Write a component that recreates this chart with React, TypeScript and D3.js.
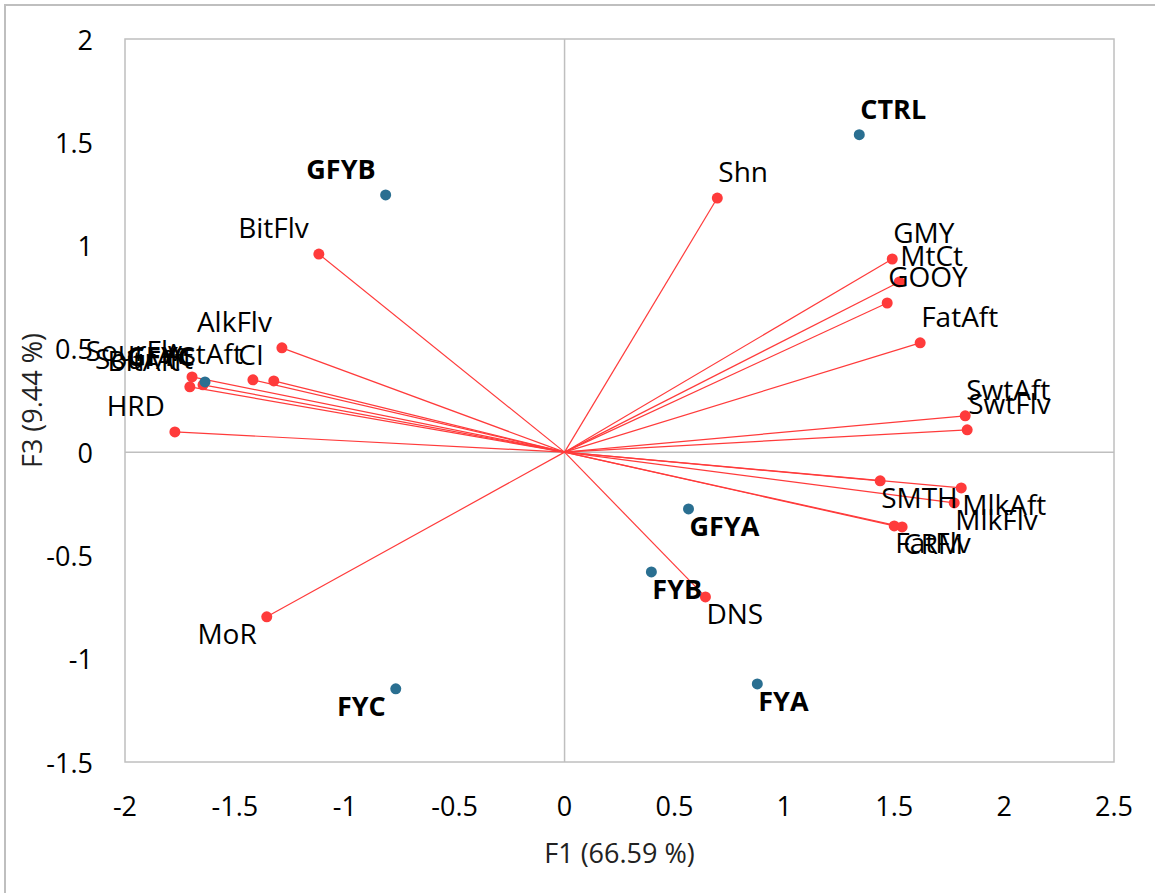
import React from "react";
import * as d3 from "d3";

// Observations (factor scores on F1 / F3)
const obsNames = ["CTRL", "GFYB", "GFYA", "FYB", "FYC", "FYA", "GFYC"];
const obsF1 = [1.341, -0.814, 0.564, 0.395, -0.768, 0.877, -1.636];
const obsF3 = [1.537, 1.245, -0.275, -0.58, -1.146, -1.122, 0.34];

// Variables (loadings on F1 / F3)
const varNames = [
  "Shn", "BitFlv", "GMY", "MtCt", "GOOY", "FatAft", "SwtAft", "SwtFlv",
  "SMTH", "MlkAft", "MlkFlv", "FatFlv", "CRM", "DNS", "MoR", "HRD",
  "AlkFlv", "SourFlv", "BitAft", "SourAft", "AstAft", "CI",
];
const varF1 = [
  0.695, -1.118, 1.491, 1.523, 1.468, 1.618, 1.823, 1.832,
  1.436, 1.805, 1.773, 1.5, 1.536, 0.641, -1.355, -1.773,
  -1.286, -1.695, -1.705, -1.645, -1.418, -1.323,
];
const varF3 = [
  1.23, 0.959, 0.935, 0.824, 0.722, 0.529, 0.176, 0.108,
  -0.139, -0.173, -0.246, -0.357, -0.362, -0.701, -0.797, 0.098,
  0.505, 0.364, 0.316, 0.326, 0.35, 0.345,
];

const xTicks = [-2, -1.5, -1, -0.5, 0, 0.5, 1, 1.5, 2, 2.5];
const yTicks = [-1.5, -1, -0.5, 0, 0.5, 1, 1.5, 2];

const xTitle = "F1 (66.59 %)";
const yTitle = "F3 (9.44 %)";

const W = 1155;
const H = 893;
const plot = { left: 125, right: 1114, top: 39, bottom: 762 };
const FONT = "'Open Sans', sans-serif";
const RED = "#ff3b3b";
const BLUE = "#2a6f91";
const GRID = "#bfbfbf";

export default function App() {
  const x = d3.scaleLinear().domain([-2, 2.5]).range([plot.left, plot.right]);
  const y = d3.scaleLinear().domain([-1.5, 2]).range([plot.bottom, plot.top]);

  // labels sit above points in the upper half, below them in the lower half,
  // and to the outside of the point horizontally
  const labelPos = (vx: number, vy: number) => {
    const px = x(vx);
    const py = y(vy);
    const right = vx >= 0;
    return {
      x: right ? px + 1 : px - 10,
      y: vy >= 0 ? py - 16 : py + 27,
      anchor: right ? "start" : "end",
    };
  };

  const vars = varNames.map((n, i) => ({ name: n, f1: varF1[i], f3: varF3[i] }));
  const obs = obsNames.map((n, i) => ({ name: n, f1: obsF1[i], f3: obsF3[i] }));

  return (
    <svg
      width={W}
      height={H}
      style={{ position: "absolute", left: 0, top: 0, background: "#fff" }}
      fontFamily={FONT}
    >
      {/* chart frame */}
      <rect x={5} y={5} width={W + 20} height={H + 20} fill="#fff" stroke={GRID} strokeWidth={2} />

      {/* plot area */}
      <rect
        x={plot.left}
        y={plot.top}
        width={plot.right - plot.left}
        height={plot.bottom - plot.top}
        fill="none"
        stroke={GRID}
        strokeWidth={1.5}
      />
      <line x1={x(0)} x2={x(0)} y1={plot.top} y2={plot.bottom} stroke={GRID} strokeWidth={1.5} />
      <line x1={plot.left} x2={plot.right} y1={y(0)} y2={y(0)} stroke={GRID} strokeWidth={1.5} />

      {/* tick labels */}
      {xTicks.map((t) => (
        <text key={"x" + t} x={x(t)} y={805} textAnchor="middle" dominantBaseline="central" fontSize={27} fill="#000">
          {String(t)}
        </text>
      ))}
      {yTicks.map((t) => (
        <text key={"y" + t} x={93} y={y(t)} textAnchor="end" dominantBaseline="central" fontSize={27} fill="#000">
          {String(t)}
        </text>
      ))}

      {/* axis titles */}
      <text x={(plot.left + plot.right) / 2} y={852} textAnchor="middle" dominantBaseline="central" fontSize={27} fill="#222">
        {xTitle}
      </text>
      <text
        transform={`translate(31, ${(plot.top + plot.bottom) / 2}) rotate(-90)`}
        textAnchor="middle"
        dominantBaseline="central"
        fontSize={27}
        fill="#222"
      >
        {yTitle}
      </text>

      {/* variable vectors */}
      {vars.map((v) => (
        <line key={"l" + v.name} x1={x(0)} y1={y(0)} x2={x(v.f1)} y2={y(v.f3)} stroke={RED} strokeWidth={1.2} />
      ))}
      {vars.map((v) => (
        <circle key={"c" + v.name} cx={x(v.f1)} cy={y(v.f3)} r={5.5} fill={RED} />
      ))}

      {/* observations */}
      {obs.map((o) => (
        <circle key={"o" + o.name} cx={x(o.f1)} cy={y(o.f3)} r={5.5} fill={BLUE} />
      ))}

      {/* labels */}
      {vars.map((v) => {
        const p = labelPos(v.f1, v.f3);
        return (
          <text key={"t" + v.name} x={p.x} y={p.y} textAnchor={p.anchor} fontSize={28} fill="#000">
            {v.name}
          </text>
        );
      })}
      {obs.map((o) => {
        const p = labelPos(o.f1, o.f3);
        return (
          <text key={"u" + o.name} x={p.x} y={p.y} textAnchor={p.anchor} fontSize={27} fontWeight="bold" fill="#000">
            {o.name}
          </text>
        );
      })}
    </svg>
  );
}
